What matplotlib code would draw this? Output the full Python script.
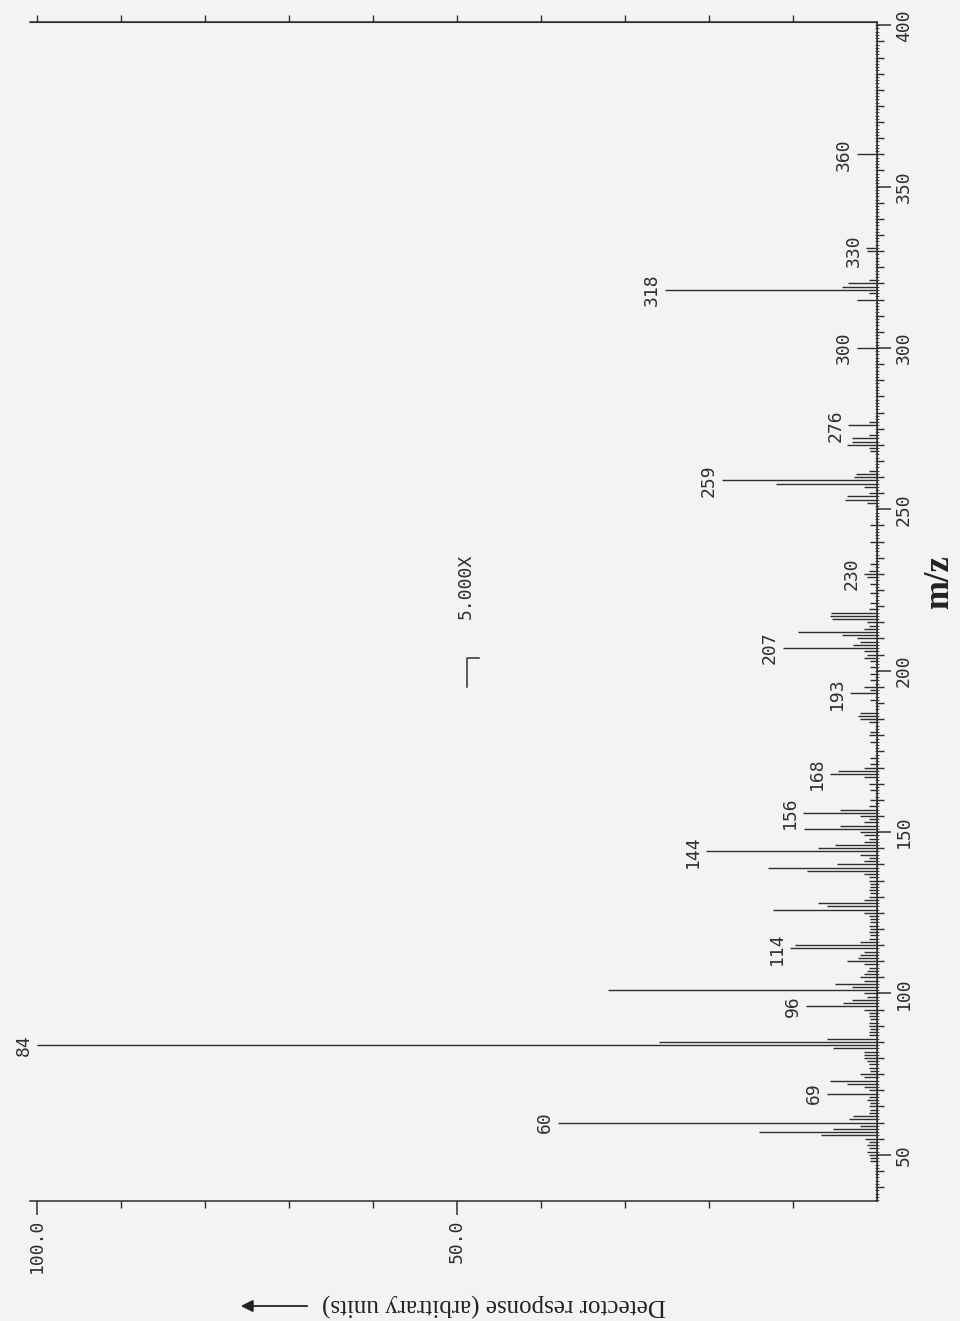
import numpy as np
import matplotlib
matplotlib.use("Agg")
import matplotlib.pyplot as plt
from matplotlib.ticker import FixedLocator, MultipleLocator

# peak list (m/z, relative intensity %)
mz = [48, 49, 50, 51, 52, 53, 54, 55, 56, 57, 58, 59, 60, 61, 62, 63, 64, 65, 66, 67,
      68, 69, 70, 71, 72, 73, 74, 75, 76, 77, 78, 79, 80, 81, 82, 83, 84, 85, 86, 87,
      88, 89, 90, 91, 92, 93, 94, 95, 96, 97, 98, 99, 100, 101, 102, 103, 104, 105, 106, 107,
      108, 109, 110, 111, 112, 113, 114, 115, 116, 117, 118, 119, 120, 121, 122, 123, 124, 125, 126, 127,
      128, 129, 130, 131, 132, 133, 134, 135, 136, 137, 138, 139, 140, 141, 142, 143, 144, 145, 146, 147,
      148, 149, 150, 151, 152, 153, 154, 155, 156, 157, 158, 160, 163, 165, 167, 168, 169, 170, 171, 173,
      178, 180, 181, 184, 185, 186, 187, 191, 193, 194, 195, 197, 199, 201, 203, 204, 205, 206, 207, 208,
      209, 210, 211, 212, 213, 214, 215, 216, 217, 218, 219, 221, 224, 227, 229, 230, 231, 233, 240, 245,
      252, 253, 254, 255, 257, 258, 259, 260, 261, 262, 268, 269, 270, 271, 272, 273, 276, 277, 300, 315,
      317, 318, 319, 320, 321, 330, 331, 360]
intensity = [0.8, 0.8, 1.0, 1.2, 1.0, 1.2, 1.0, 1.4, 6.7, 14.0, 5.2, 2.0, 38.0, 3.3, 2.9, 1.0, 0.8, 1.0, 0.8, 1.2,
             1.0, 6.0, 1.0, 1.5, 3.6, 5.6, 1.5, 2.0, 0.8, 1.0, 1.0, 1.2, 1.5, 1.5, 1.5, 5.2, 100.0, 26.0, 6.0, 1.0,
             1.0, 0.8, 1.0, 1.0, 0.8, 1.0, 1.0, 1.5, 8.5, 4.0, 3.0, 1.2, 1.5, 32.0, 3.0, 5.0, 1.5, 2.0, 1.5, 1.2,
             1.0, 1.5, 3.6, 2.3, 2.0, 1.5, 10.3, 9.8, 2.0, 1.0, 0.8, 1.0, 0.8, 1.0, 0.8, 0.8, 1.0, 1.5, 12.4, 6.0,
             7.0, 1.5, 1.0, 0.8, 1.0, 0.8, 0.8, 1.0, 1.0, 1.5, 8.3, 13.0, 4.8, 1.5, 1.0, 2.0, 20.3, 7.0, 5.0, 1.5,
             1.0, 1.5, 2.0, 8.7, 4.4, 1.5, 1.0, 2.0, 8.8, 4.4, 1.0, 0.8, 0.8, 1.0, 1.5, 5.6, 4.6, 1.5, 0.8, 0.8,
             0.8, 1.0, 0.8, 1.0, 2.0, 2.3, 2.0, 0.8, 3.2, 0.8, 1.5, 0.8, 0.8, 0.8, 0.8, 1.5, 1.2, 1.5, 11.2, 2.8,
             2.0, 2.4, 4.2, 9.4, 1.6, 1.0, 1.2, 5.4, 5.6, 5.5, 1.0, 0.8, 0.8, 0.8, 1.2, 1.5, 1.0, 0.8, 0.8, 0.8,
             1.2, 3.8, 3.6, 1.0, 1.5, 12.0, 18.5, 2.7, 2.5, 1.0, 0.8, 1.0, 3.6, 3.0, 3.0, 1.0, 3.4, 1.0, 2.4, 2.4,
             1.0, 25.2, 4.2, 3.5, 1.0, 1.2, 1.3, 2.4]

labelled = [60, 69, 84, 96, 114, 144, 156, 168, 193, 207, 230, 259, 276, 300, 318, 330, 360]

mz_ticks = [50, 100, 150, 200, 250, 300, 350, 400]
int_ticks = [100, 50]
int_tick_labels = ["100.0", "50.0"]

paper = "#f3f3f1"
ink = "#2e2e2e"
mono = "DejaVu Sans Mono"

fig = plt.figure(figsize=(9.6, 13.21), dpi=100, facecolor=paper)
ax = fig.add_axes([30 / 960, 1 - 1201 / 1321, 847 / 960, 1179 / 1321], facecolor=paper)

ax.hlines(mz, 0, intensity, colors=ink, lw=1.0)

peak = dict(zip(mz, intensity))
for m in labelled:
    ax.annotate(str(m), xy=(peak[m], m), xytext=(-3, 0), textcoords="offset points",
                rotation=90, ha="right", va="center", fontsize=13, family=mono, color=ink)

# intensity runs leftwards, m/z upwards (page is turned on its side)
ax.set_xlim(100.8, 0)
ax.set_ylim(35.7, 401.0)

ax.spines["left"].set_visible(False)
for s in ["right", "bottom", "top"]:
    ax.spines[s].set_color(ink)
    ax.spines[s].set_linewidth(1.1)

ax.yaxis.tick_right()
ax.yaxis.set_major_locator(FixedLocator(mz_ticks))
ax.yaxis.set_minor_locator(MultipleLocator(5))
ax.tick_params(axis="y", which="major", length=10, width=1.1, direction="out", color=ink,
               labelrotation=90, pad=3, labelsize=13, labelcolor=ink)
ax.tick_params(axis="y", which="minor", length=5, width=1.0, direction="out", color=ink)
for lab in ax.get_yticklabels():
    lab.set_family(mono)
    lab.set_va("center")

ax.set_xticks(int_ticks, int_tick_labels)
ax.xaxis.set_minor_locator(FixedLocator(range(10, 100, 10)))
ax.tick_params(axis="x", which="major", length=10, width=1.1, direction="out", color=ink,
               labelrotation=90, pad=3, labelsize=13, labelcolor=ink)
ax.tick_params(axis="x", which="minor", length=5, width=1.0, direction="out", color=ink)
for lab in ax.get_xticklabels():
    lab.set_family(mono)

# ticks on the upper frame line
top = ax.secondary_xaxis("top")
top.set_xticks(range(10, 101, 10))
top.tick_params(length=5, width=1.0, direction="out", color=ink, labeltop=False)
top.spines["top"].set_color(ink)

# fine unit ticks along the m/z axis
fine = ax.secondary_yaxis("right")
fine.set_yticks(np.arange(36, 401, 1))
fine.tick_params(length=2.5, width=0.6, direction="inout", color=ink, labelright=False)
fine.spines["right"].set_color(ink)

# magnification marker
mag_mz, mag_level = 195, 48.8
ax.plot([mag_level, mag_level, mag_level - 1.4], [mag_mz, mag_mz + 9, mag_mz + 9], color=ink, lw=1.1)
ax.text(mag_level + 0.2, mag_mz + 31, "5.000X", rotation=90, ha="center", va="center",
        fontsize=13, family=mono, color=ink)

fig.text(940 / 960, 1 - 582 / 1321, "m/z", rotation=90, ha="center", va="center",
         fontsize=25, family="Liberation Serif", weight="bold", color="#222222")

fig.text(494 / 960, 1 - 1305 / 1321, "Detector response (arbitrary units)", rotation=180,
         ha="center", va="center", fontsize=18, family="Liberation Serif", color="#222222")
ax.annotate("", xy=(238 / 960, 1 - 1306 / 1321), xytext=(310 / 960, 1 - 1306 / 1321),
            xycoords="figure fraction", textcoords="figure fraction", annotation_clip=False,
            arrowprops=dict(arrowstyle="-|>", color="#222222", lw=1.3, mutation_scale=18))

fig.savefig("out.png", dpi=100, facecolor=paper)
